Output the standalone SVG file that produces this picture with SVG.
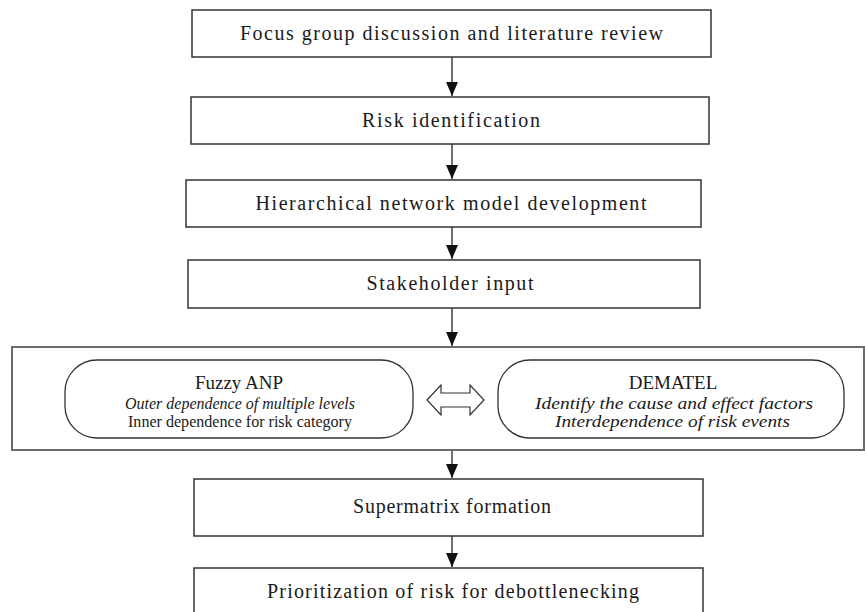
<svg xmlns="http://www.w3.org/2000/svg" width="865" height="612" viewBox="0 0 865 612">
  <style>
    .box { fill: #ffffff; stroke: #333333; stroke-width: 1.5; }
    .panel { fill: #ffffff; stroke: #6b6b6b; stroke-width: 2; }
    .pill { fill: #ffffff; stroke: #333333; stroke-width: 1.3; }
    .label { font-family: "Liberation Serif", "Times New Roman", serif; font-size: 20px; fill: #1a1a1a; text-anchor: middle; }
    .head { font-family: "Liberation Serif", "Times New Roman", serif; font-size: 19px; fill: #1a1a1a; text-anchor: middle; }
    .sub { font-family: "Liberation Serif", "Times New Roman", serif; font-size: 16.5px; fill: #1a1a1a; text-anchor: middle; }
    .it { font-style: italic; }
    .edge { stroke: #333333; stroke-width: 1.4; fill: none; marker-end: url(#head); }
    .dbl { fill: #ffffff; stroke: #333333; stroke-width: 1.2; stroke-linejoin: miter; }
  </style>
  <defs>
    <marker id="head" markerUnits="userSpaceOnUse" markerWidth="14" markerHeight="12" refX="14" refY="6" orient="auto" viewBox="0 0 14 12">
      <path d="M0,0 L14,6 L0,12 Z" fill="#111111"/>
    </marker>
  </defs>

  <rect width="865" height="612" fill="#ffffff"/>

  <!-- connectors -->
  <g id="connectors">
    <line class="edge" x1="452" y1="57" x2="452" y2="96"/>
    <line class="edge" x1="452" y1="144" x2="452" y2="179"/>
    <line class="edge" x1="452" y1="227" x2="452" y2="259"/>
    <line class="edge" x1="452" y1="308" x2="452" y2="346"/>
    <line class="edge" x1="452" y1="450" x2="452" y2="478"/>
    <line class="edge" x1="452" y1="536" x2="452" y2="567"/>
  </g>

  <g id="focus-group">
    <rect class="box" x="192" y="10" width="519" height="47"/>
    <text class="label" x="451.5" y="40" textLength="423" lengthAdjust="spacing">Focus group discussion and literature review</text>
  </g>

  <g id="risk-identification">
    <rect class="box" x="191" y="97" width="518" height="47"/>
    <text class="label" x="451" y="127" textLength="178" lengthAdjust="spacing">Risk identification</text>
  </g>

  <g id="network-model">
    <rect class="box" x="186" y="180" width="515" height="47"/>
    <text class="label" x="451" y="210" textLength="391" lengthAdjust="spacing">Hierarchical network model development</text>
  </g>

  <g id="stakeholder-input">
    <rect class="box" x="188" y="260" width="512" height="48"/>
    <text class="label" x="450" y="290" textLength="167" lengthAdjust="spacing">Stakeholder input</text>
  </g>

  <g id="methods">
    <rect class="panel" x="12" y="347" width="852" height="103"/>
    <g id="fuzzy-anp">
      <rect class="pill" x="65" y="360" width="348" height="78" rx="32" ry="32"/>
      <text class="head" x="239" y="389">Fuzzy ANP</text>
      <text class="sub it" x="240" y="409" textLength="230" lengthAdjust="spacingAndGlyphs">Outer dependence of multiple levels</text>
      <text class="sub" x="240" y="427" textLength="224" lengthAdjust="spacingAndGlyphs">Inner dependence for risk category</text>
    </g>
    <g id="exchange">
      <path class="dbl" d="M427,400 L441,385 L441,393 L470,393 L470,385 L484,400 L470,415 L470,407 L441,407 L441,415 Z"/>
    </g>
    <g id="dematel">
      <rect class="pill" x="498" y="360" width="346" height="78" rx="32" ry="32"/>
      <text class="head" x="673" y="389">DEMATEL</text>
      <text class="sub it" x="674" y="409" textLength="278" lengthAdjust="spacingAndGlyphs">Identify the cause and effect factors</text>
      <text class="sub it" x="672.5" y="427" textLength="235" lengthAdjust="spacingAndGlyphs">Interdependence of risk events</text>
    </g>
  </g>

  <g id="supermatrix">
    <rect class="box" x="194" y="479" width="509" height="57"/>
    <text class="label" x="452" y="513" textLength="198" lengthAdjust="spacing">Supermatrix formation</text>
  </g>

  <g id="prioritization">
    <rect class="box" x="194" y="568" width="509" height="50"/>
    <text class="label" x="453" y="598" textLength="372" lengthAdjust="spacing">Prioritization of risk for debottlenecking</text>
  </g>
</svg>
